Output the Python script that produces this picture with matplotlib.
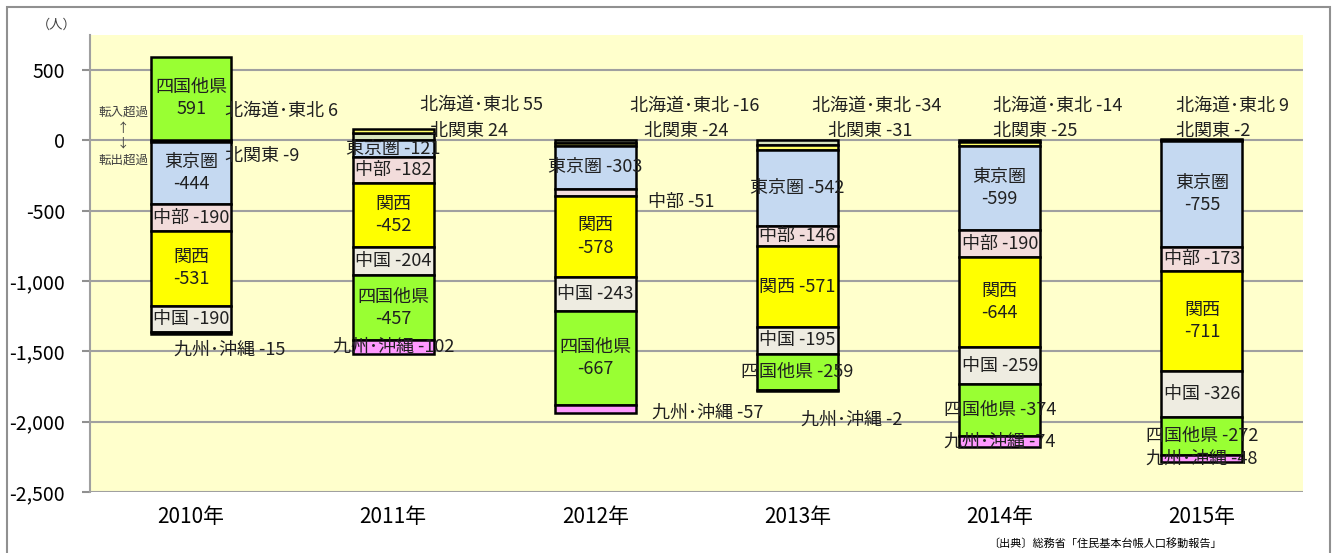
import numpy as np
import matplotlib
matplotlib.use('Agg')
import matplotlib.pyplot as plt
from matplotlib.patches import Rectangle
from matplotlib.ticker import FuncFormatter

plt.rcParams['font.family'] = ['Noto Sans CJK JP', 'DejaVu Sans']

# ── data ──────────────────────────────────────────────────────────────
years = ['2010年', '2011年', '2012年', '2013年', '2014年', '2015年']
regions = ['北海道･東北', '北関東', '東京圏', '中部', '関西', '中国', '四国他県', '九州･沖縄']

hokkaido_tohoku = [6, 55, -16, -34, -14, 9]
kita_kanto = [-9, 24, -24, -31, -25, -2]
tokyo_ken = [-444, -121, -303, -542, -599, -755]
chubu = [-190, -182, -51, -146, -190, -173]
kansai = [-531, -452, -578, -571, -644, -711]
chugoku = [-190, -204, -243, -195, -259, -326]
shikoku_other = [591, -457, -667, -259, -374, -272]
kyushu_okinawa = [-15, -102, -57, -2, -74, -48]

series = [hokkaido_tohoku, kita_kanto, tokyo_ken, chubu, kansai,
          chugoku, shikoku_other, kyushu_okinawa]
colors = ['#D7E4BD', '#FFFF66', '#C5D9F1', '#F2DCDB', '#FFFF00',
          '#EEECE1', '#99FF33', '#FF99FF']

# labels drawn on two lines (name / value): (year idx, region idx)
two_line = {(0, 6), (0, 2), (0, 4), (1, 4), (1, 6), (2, 4), (2, 6),
            (4, 2), (4, 4), (5, 2), (5, 4)}

# labels placed outside the bar: (year idx, region idx) -> (dx, y, ha)
outside = {
    (0, 0): (0.17, 214, 'left'), (0, 1): (0.17, -107, 'left'),
    (0, 7): (0.19, -1486, 'center'),
    (1, 0): (0.13, 250, 'left'), (1, 1): (0.18, 71, 'left'),
    (2, 0): (0.17, 243, 'left'), (2, 1): (0.24, 64, 'left'),
    (2, 3): (0.26, -436, 'left'), (2, 7): (0.28, -1936, 'left'),
    (3, 0): (0.07, 243, 'left'), (3, 1): (0.15, 64, 'left'),
    (3, 7): (0.015, -1986, 'left'),
    (4, 0): (-0.035, 243, 'left'), (4, 1): (-0.035, 64, 'left'),
    (5, 0): (-0.13, 243, 'left'), (5, 1): (-0.13, 64, 'left'),
}

fig = plt.figure(figsize=(13.35, 5.53), dpi=100)
ax = fig.add_axes([0.0674, 0.1103, 0.9086, 0.8264])
ax.set_facecolor('#FFFFCC')

x = np.arange(len(years))
width = 0.40
pos_base = np.zeros(len(years))
neg_base = np.zeros(len(years))

for ri, (vals, color) in enumerate(zip(series, colors)):
    vals = np.array(vals, dtype=float)
    bottoms = np.where(vals >= 0, pos_base, neg_base)
    ax.bar(x, vals, width, bottom=bottoms, color=color,
           edgecolor='black', linewidth=1.8, zorder=3)
    for yi in range(len(years)):
        v = int(vals[yi])
        key = (yi, ri)
        if key in outside:
            dx, ty, ha = outside[key]
            ax.text(x[yi] + dx, ty, f'{regions[ri]} {v}', ha=ha, va='center',
                    fontsize=13, color='#202020', zorder=5)
        else:
            cy = bottoms[yi] + vals[yi] / 2
            if key in two_line:
                txt = f'{regions[ri]}\n{v}'
            else:
                txt = f'{regions[ri]} {v}'
            ax.text(x[yi], cy, txt, ha='center', va='center', fontsize=13,
                    color='#202020', linespacing=1.3, zorder=5)
    pos_base = pos_base + np.where(vals >= 0, vals, 0)
    neg_base = neg_base + np.where(vals < 0, vals, 0)

ax.set_xlim(-0.5, len(years) - 0.5)
ax.set_ylim(-2500, 750)
ax.set_yticks(np.arange(-2500, 501, 500))
ax.yaxis.set_major_formatter(FuncFormatter(lambda v, p: f'{int(v):,}'))
ax.set_xticks(x)
ax.set_xticklabels(years, fontsize=15)
ax.tick_params(axis='x', length=0, pad=10)
ax.tick_params(axis='y', labelsize=14, length=6, width=1.5, color='#909090', pad=12)
ax.grid(axis='y', color='#A0A0A0', linewidth=1.5, zorder=1)
ax.set_axisbelow(True)
for s in ['top', 'right', 'bottom']:
    ax.spines[s].set_visible(False)
ax.spines['left'].set_color('#A0A0A0')
ax.spines['left'].set_linewidth(1.5)

# direction note left of the 2010 bar
ax.text(-0.335, 200, '転入超過', ha='center', va='center', fontsize=9, color='#404040')
ax.text(-0.335, 86, '↑', ha='center', va='center', fontsize=9, color='#404040')
ax.text(-0.335, -21, '↓', ha='center', va='center', fontsize=9, color='#404040')
ax.text(-0.335, -143, '転出超過', ha='center', va='center', fontsize=9, color='#404040')

fig.text(57 / 1335, 1 - 25 / 553, '（人）', ha='center', va='center', fontsize=9.5,
         color='#404040')
fig.text(1105 / 1335, 1 - 543 / 553, '〔出典〕総務省「住民基本台帳人口移動報告」',
         ha='center', va='center', fontsize=8)

fig.patches.append(Rectangle((7 / 1335, -0.1), 1323 / 1335, 1.1 - 7 / 553,
                             transform=fig.transFigure, fill=False,
                             edgecolor='#909090', linewidth=1.5))

fig.savefig('out.png', dpi=100)
